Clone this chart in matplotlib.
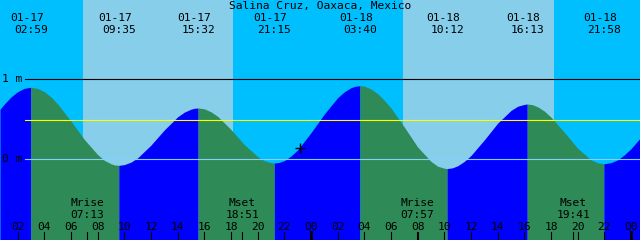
import matplotlib
matplotlib.use("Agg")
import matplotlib.pyplot as plt
import numpy as np

# ---------------- data ----------------
title = "Salina Cruz, Oaxaca, Mexico"

# tide curve: hours since 01-17 00:00, height in metres
tide_t = [0.675, 1, 1.5, 2, 2.5, 2.983, 3.5, 4, 4.5, 5, 6, 7, 8, 8.5, 9, 9.25,
          9.583, 10, 10.5, 11, 12, 13, 14, 14.5, 15, 15.25, 15.533, 16, 16.5,
          17, 18, 19, 20, 20.5, 21, 21.25, 21.6, 22, 22.5, 23, 24, 25, 26, 26.5,
          27, 27.3, 27.667, 28, 28.5, 29, 29.5, 30, 31, 32, 33, 33.5, 34, 34.2,
          34.6, 35, 35.5, 36, 37, 38, 39, 39.5, 40, 40.217, 40.6, 41, 41.5, 42,
          43, 44, 45, 45.5, 45.967, 46.5, 47, 47.5, 48, 48.675]
tide_h = [0.625, 0.69, 0.779, 0.845, 0.887, 0.90, 0.885, 0.845, 0.778, 0.69,
          0.475, 0.245, 0.055, -0.016, -0.06, -0.074, -0.08, -0.07, -0.039,
          0.015, 0.175, 0.365, 0.53, 0.588, 0.625, 0.636, 0.64, 0.63, 0.592,
          0.535, 0.37, 0.18, 0.03, -0.021, -0.045, -0.05, -0.043, -0.02, 0.038,
          0.115, 0.33, 0.565, 0.77, 0.843, 0.895, 0.912, 0.92, 0.915, 0.879,
          0.82, 0.735, 0.64, 0.40, 0.15, -0.03, -0.09, -0.115, -0.12, -0.111,
          -0.085, -0.03, 0.045, 0.24, 0.45, 0.61, 0.662, 0.685, 0.69, 0.682,
          0.655, 0.602, 0.525, 0.335, 0.135, -0.01, -0.048, -0.06, -0.046,
          -0.01, 0.052, 0.13, 0.26]

# high / low tide events
ext_t = [2.983, 9.583, 15.533, 21.25, 27.667, 34.2, 40.217, 45.967]
ext_date = ["01-17", "01-17", "01-17", "01-17", "01-18", "01-18", "01-18", "01-18"]
ext_time = ["02:59", "09:35", "15:32", "21:15", "03:40", "10:12", "16:13", "21:58"]

# sun (day shading)
sunrise_t = [6.9, 30.9]
sunset_t = [18.15, 42.2]

# moon events
moon_t = [7.217, 18.85, 31.95, 43.683]
moon_name = ["Mrise", "Mset", "Mrise", "Mset"]
moon_time = ["07:13", "18:51", "07:57", "19:41"]

# hour ticks
hour_ticks = list(range(2, 49, 2))
hour_labels = ["%02d" % (h % 24) for h in hour_ticks]

mean_level = 0.485
now_t, now_h = 23.175, 0.14

# ---------------- style ----------------
NIGHT = "#00BFFF"
DAY = "#87CEEB"
EBB = "#2E8B57"
FLOOD = "#0000FF"
ZERO = "#87CEFA"
FONT = "DejaVu Sans Mono"
FS = 8.1

W, H = 640, 240
fig = plt.figure(figsize=(6.4, 2.4), dpi=100)
ax = fig.add_axes([0, 0, 1, 1])
x0, x1 = 0.675, 48.675
ymin, ymax = -1.016, 1.995
ax.set_xlim(x0, x1)
ax.set_ylim(ymin, ymax)
ax.set_facecolor(NIGHT)
for s in ax.spines.values():
    s.set_visible(False)
ax.set_xticks([])
ax.set_yticks([])

for r, s in zip(sunrise_t, sunset_t):
    ax.axvspan(r, s, color=DAY, lw=0, zorder=0)

t = np.array(tide_t)
h = np.array(tide_h)
# split curve at high/low events: rising = flood (blue), falling = ebb (green)
bounds = [0] + [int(np.argmin(np.abs(t - e))) for e in ext_t] + [len(t) - 1]
for a, b in zip(bounds[:-1], bounds[1:]):
    seg = slice(a, b + 1)
    col = FLOOD if h[b] > h[a] else EBB
    ax.fill_between(t[seg], h[seg], ymin, color=col, lw=0, zorder=1)

lx = 25 / W
ax.axhline(1.0, xmin=lx, xmax=1, color="black", lw=0.8, zorder=2)
ax.axhline(0.0, xmin=lx, xmax=1, color=ZERO, lw=0.8, zorder=2)
ax.axhline(mean_level, xmin=lx, xmax=1, color="yellow", lw=0.8, zorder=2)

ax.text(2 / W, 1.0, "1 m", transform=ax.get_yaxis_transform(), family=FONT,
        fontsize=FS, ha="left", va="center", zorder=3)
ax.text(2 / W, 0.0, "0 m", transform=ax.get_yaxis_transform(), family=FONT,
        fontsize=FS, ha="left", va="center", zorder=3)

xt = ax.get_xaxis_transform()
px = (x1 - x0) / W
ax.text(0.5, 1 - 9.5 / H, title, transform=ax.transAxes, family=FONT, fontsize=FS,
        ha="center", va="baseline", zorder=3)
for et, d, tm in zip(ext_t, ext_date, ext_time):
    ax.text(et - 4 * px, 1 - 20.7 / H, d, transform=xt, family=FONT, fontsize=FS,
            ha="center", va="baseline", zorder=3)
    ax.text(et, 1 - 33 / H, tm, transform=xt, family=FONT, fontsize=FS,
            ha="center", va="baseline", zorder=3)

for mt, mn, mtm in zip(moon_t, moon_name, moon_time):
    ax.text(mt, 34 / H, mn, transform=xt, family=FONT, fontsize=FS,
            ha="center", va="baseline", zorder=3)
    ax.text(mt, 22.3 / H, mtm, transform=xt, family=FONT, fontsize=FS,
            ha="center", va="baseline", zorder=3)
    ax.plot([mt, mt], [0, 8 / H], transform=xt, color="black", lw=0.8, zorder=3)

for ht, hl in zip(hour_ticks, hour_labels):
    ax.text(ht, 10 / H, hl, transform=xt, family=FONT, fontsize=FS,
            ha="center", va="baseline", zorder=3)
    ax.plot([ht, ht], [0, 8 / H], transform=xt, color="black",
            lw=2.2 if ht % 24 == 0 else 0.8, zorder=3)

ax.plot([now_t], [now_h], marker="+", color="black", ms=7, mew=1.0, zorder=4)

fig.savefig("out.png", dpi=100)
